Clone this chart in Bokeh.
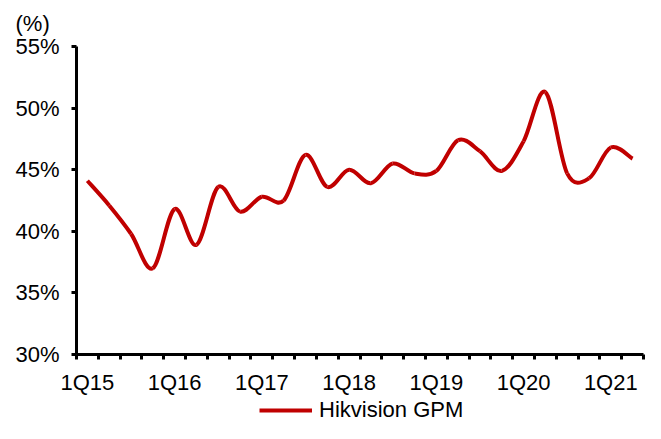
import numpy as np
from bokeh.plotting import figure
from bokeh.layouts import column
from bokeh.models import (Range1d, FixedTicker, PrintfTickFormatter, Legend, LegendItem)
from bokeh.embed import file_html
from bokeh.resources import INLINE

quarters = ["1Q15", "2Q15", "3Q15", "4Q15", "1Q16", "2Q16", "3Q16", "4Q16",
            "1Q17", "2Q17", "3Q17", "4Q17", "1Q18", "2Q18", "3Q18", "4Q18",
            "1Q19", "2Q19", "3Q19", "4Q19", "1Q20", "2Q20", "3Q20", "4Q20",
            "1Q21", "2Q21"]
gpm = [44.1, 42.1, 39.8, 37.0, 41.8, 38.9, 43.6, 41.6,
       42.8, 42.5, 46.2, 43.6, 45.0, 43.9, 45.5, 44.7,
       44.9, 47.4, 46.5, 44.9, 47.3, 51.3, 44.7, 44.3,
       46.8, 45.9]
y_ticks = [30, 35, 40, 45, 50, 55]
series_name = "Hikvision GPM"
unit_label = "(%)"

FONT = "Liberation Sans"
FS = "22px"
RED = "#C00000"

n = len(quarters)
xs = np.arange(n, dtype=float)
ys = np.array(gpm, dtype=float)

p = figure(width=645, height=397, output_backend="svg", toolbar_location=None,
           x_range=Range1d(-0.5, n - 0.5), y_range=Range1d(30, 55),
           min_border_left=76, min_border_right=2, min_border_top=46, min_border_bottom=40)
p.outline_line_color = None
p.xgrid.visible = False
p.ygrid.visible = False
p.background_fill_color = "white"
p.border_fill_color = "white"

p.title.text = unit_label
p.title.align = "left"
p.title.vertical_align = "top"
p.title.offset = -61
p.title.standoff = 18
p.title.text_font = FONT
p.title.text_font_size = FS
p.title.text_font_style = "normal"
p.title.text_color = "black"

# smoothed line (Catmull-Rom style Bezier segments, like a spreadsheet smoothed line)
xp = np.concatenate([[xs[0]], xs, [xs[-1]]])
yp = np.concatenate([[ys[0]], ys, [ys[-1]]])
x0 = xs[:-1]; y0 = ys[:-1]
x1 = xs[1:]; y1 = ys[1:]
cx0 = x0 + (xp[2:-1] - xp[0:-3]) / 6.0
cy0 = y0 + (yp[2:-1] - yp[0:-3]) / 6.0
cx1 = x1 - (xp[3:] - xp[1:-2]) / 6.0
cy1 = y1 - (yp[3:] - yp[1:-2]) / 6.0
p.bezier(x0=x0, y0=y0, x1=x1, y1=y1, cx0=cx0, cy0=cy0, cx1=cx1, cy1=cy1,
         line_color=RED, line_width=4)

# x axis
xa = p.xaxis[0]
major = [i for i, q in enumerate(quarters) if q.startswith("1Q")]
xa.ticker = FixedTicker(ticks=major, minor_ticks=[i - 0.5 for i in range(n + 1)])
xa.major_label_overrides = {i: quarters[i] for i in major}
xa.axis_line_width = 3
xa.axis_line_color = "black"
xa.major_tick_out = 0
xa.major_tick_in = 0
xa.minor_tick_out = 5
xa.minor_tick_in = 0
xa.minor_tick_line_width = 3
xa.minor_tick_line_color = "black"
xa.major_label_standoff = 10
xa.major_label_text_font = FONT
xa.major_label_text_font_size = FS
xa.major_label_text_color = "black"

# y axis
ya = p.yaxis[0]
ya.ticker = FixedTicker(ticks=y_ticks, minor_ticks=[])
ya.formatter = PrintfTickFormatter(format="%d%%")
ya.axis_line_width = 3
ya.axis_line_color = "black"
ya.major_tick_out = 5
ya.major_tick_in = 0
ya.major_tick_line_width = 3
ya.major_tick_line_color = "black"
ya.minor_tick_out = 0
ya.minor_tick_in = 0
ya.major_label_standoff = 12
ya.major_label_text_font = FONT
ya.major_label_text_font_size = FS
ya.major_label_text_color = "black"

# legend strip below the chart
q = figure(width=645, height=26, output_backend="svg", toolbar_location=None,
           x_range=Range1d(0, 1), y_range=Range1d(0, 1), min_border=0,
           x_axis_location=None, y_axis_location=None)
q.xgrid.visible = False
q.ygrid.visible = False
q.outline_line_color = None
leg_r = q.line(x=[2, 3], y=[2, 3], line_color=RED, line_width=4)
legend = Legend(items=[LegendItem(label=series_name, renderers=[leg_r])],
                location=(183, 0), orientation="horizontal",
                glyph_width=53, glyph_height=16, label_standoff=7,
                padding=0, margin=0, spacing=0,
                border_line_color=None, background_fill_alpha=0,
                label_text_font=FONT, label_text_font_size=FS, label_text_color="black")
q.add_layout(legend, "center")

open("out.html", "w").write(file_html(column(p, q, spacing=0), INLINE))
